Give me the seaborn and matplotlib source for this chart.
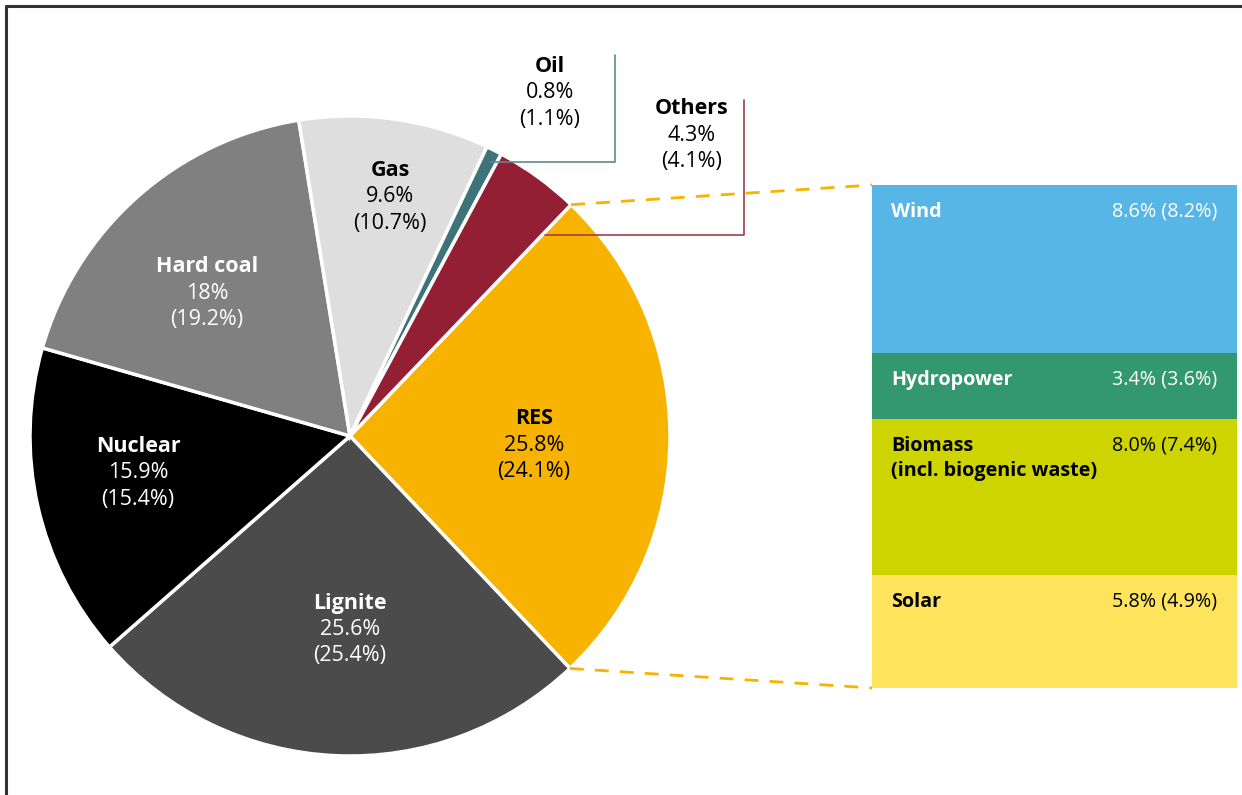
import numpy as np
import matplotlib.pyplot as plt
import seaborn as sns
from matplotlib.lines import Line2D

# Datos del mix eléctrico (valor actual y, entre paréntesis, año anterior)
sources = ["RES", "Lignite", "Nuclear", "Hard coal", "Gas", "Oil", "Others"]
shares = [25.8, 25.6, 15.9, 18.0, 9.6, 0.8, 4.3]
share_labels = ["25.8%", "25.6%", "15.9%", "18%", "9.6%", "0.8%", "4.3%"]
prev_labels = ["(24.1%)", "(25.4%)", "(15.4%)", "(19.2%)", "(10.7%)", "(1.1%)", "(4.1%)"]
pie_colors = ["#f8b300", "#4b4b4b", "#000000", "#808080", "#dedede", "#3f737a", "#921f33"]

res_names = ["Wind", "Hydropower", "Biomass\n(incl. biogenic waste)", "Solar"]
res_shares = [8.6, 3.4, 8.0, 5.8]
res_prev = [8.2, 3.6, 7.4, 4.9]
res_colors = ["#57b6e6", "#33976f", "#cdd400", "#fde45c"]

W, H = 1242, 795
sns.set_theme(style="white")
plt.rcParams['font.family'] = ['Open Sans', 'DejaVu Sans']

fig = plt.figure(figsize=(W / 100, H / 100), dpi=100)
ax = fig.add_axes([0, 0, 1, 1])

cx, cy, r = 350, H - 436, 320
wedges, _ = ax.pie(shares, colors=pie_colors, startangle=46.3, counterclock=False,
                   center=(cx, cy), radius=r, frame=True,
                   wedgeprops=dict(edgecolor='white', linewidth=2.5))
ax.set_xlim(0, W)
ax.set_ylim(0, H)
ax.set_aspect('equal')
ax.axis('off')

# posiciones de las etiquetas (px desde arriba)
label_pos = {"RES": (534, 419), "Lignite": (350, 603), "Nuclear": (138, 446),
             "Hard coal": (207, 267), "Gas": (390, 170), "Oil": (550, 66),
             "Others": (692, 109)}
white_txt = {"Lignite", "Nuclear", "Hard coal"}
for name, val, prev in zip(sources, share_labels, prev_labels):
    x, y = label_pos[name]
    c = 'white' if name in white_txt else 'black'
    ax.text(x, H - y, name, ha='center', va='center', fontsize=15.5, fontweight='bold', color=c)
    ax.text(x, H - y - 26.5, val, ha='center', va='center', fontsize=15.5, color=c)
    ax.text(x, H - y - 53, prev, ha='center', va='center', fontsize=15.5, color=c)

# líneas guía para Oil y Others
ax.plot([490, 615, 615], [H - 162, H - 162, H - 55], color='#5b8a91', lw=1.2)
ax.plot([545, 744, 744], [H - 235, H - 235, H - 100], color='#a0404f', lw=1.2)

# caja de renovables
bx0, by0, bw, bh = 872, 185, 365, 503
res_wedge = wedges[0]
p_top = (cx + r * np.cos(np.radians(res_wedge.theta2)), cy + r * np.sin(np.radians(res_wedge.theta2)))
p_bot = (cx + r * np.cos(np.radians(res_wedge.theta1)), cy + r * np.sin(np.radians(res_wedge.theta1)))
ax.plot([p_top[0], bx0], [p_top[1], H - by0], color='#f8b300', lw=2, ls=(0, (5, 4)))
ax.plot([p_bot[0], bx0], [p_bot[1], H - by0 - bh], color='#f8b300', lw=2, ls=(0, (5, 4)))

bax = fig.add_axes([bx0 / W, (H - by0 - bh) / H, bw / W, bh / H])
cum = np.cumsum(res_shares)
for i in range(len(res_shares) - 1, -1, -1):
    sns.barplot(x=[0], y=[cum[i]], color=res_colors[i], width=1, saturation=1,
                ax=bax, edgecolor='none')
bax.set_ylim(cum[-1], 0)
bax.set_xlim(-0.5, 0.5)
bax.axis('off')

tops = np.concatenate([[0], cum[:-1]])
for name, val, prev, t in zip(res_names, res_shares, res_prev, tops):
    y_px = by0 + t / cum[-1] * bh + 27
    c = 'black' if name.startswith(("Biomass", "Solar")) else 'white'
    for k, line in enumerate(name.split('\n')):
        fig.text(891 / W, 1 - (y_px + 25 * k) / H, line, ha='left', va='center',
                 fontsize=14.2, fontweight='bold', color=c)
    fig.text(1217 / W, 1 - y_px / H, f"{val:.1f}% ({prev:.1f}%)", ha='right', va='center',
             fontsize=14.2, color=c)

# marco exterior
fig.add_artist(Line2D([6 / W, 1], [1 - 6 / H, 1 - 6 / H], color='#333333', lw=2.2))
fig.add_artist(Line2D([6 / W, 6 / W], [0, 1 - 6 / H], color='#333333', lw=2.2))

fig.savefig('out.png', dpi=100)
